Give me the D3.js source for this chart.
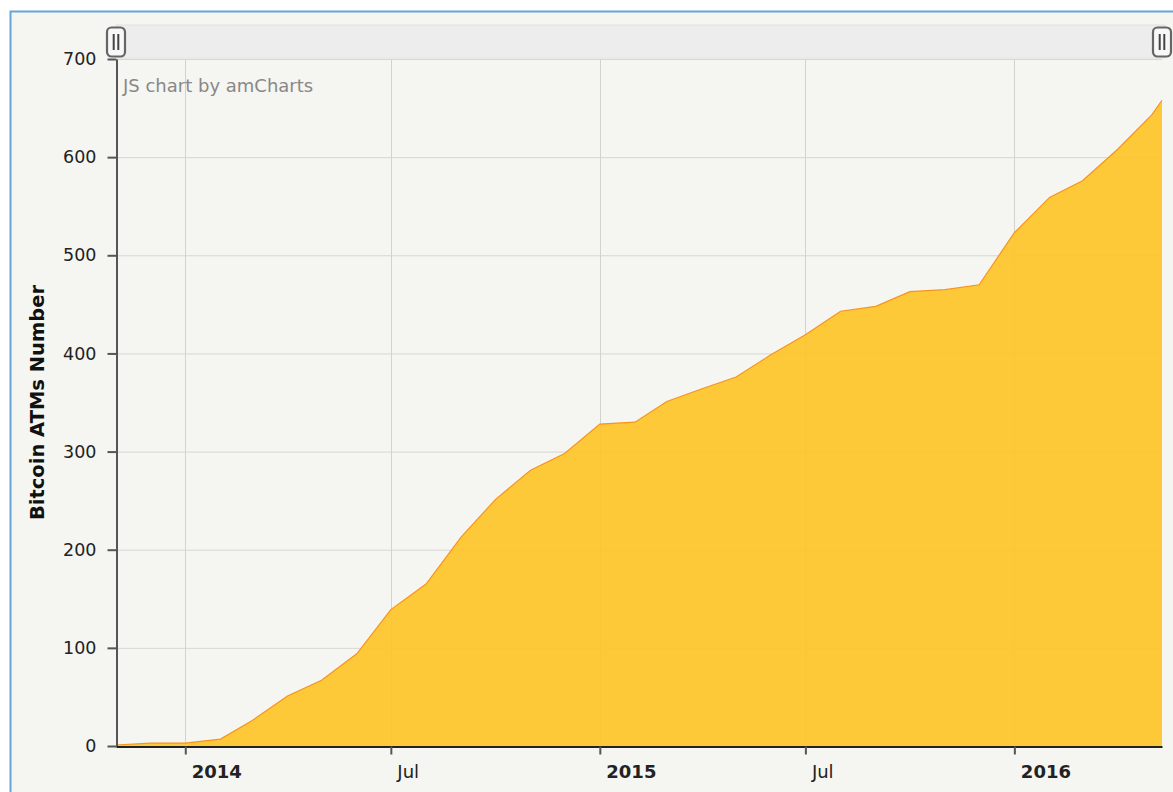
<!DOCTYPE html>
<html>
<head>
<meta charset="utf-8">
<script src="https://cdnjs.cloudflare.com/ajax/libs/d3/7.8.5/d3.min.js"></script>
<style>
  body { margin: 0; background: #fff; }
  svg { display: block; font-family: Verdana, 'DejaVu Sans', sans-serif; }
</style>
</head>
<body>
<div class="chart"></div>
<script>
// monthly Bitcoin ATM counts
const dates = ['2013-11-01', '2013-12-01',
  '2014-01-01', '2014-02-01', '2014-03-01', '2014-04-01', '2014-05-01', '2014-06-01',
  '2014-07-01', '2014-08-01', '2014-09-01', '2014-10-01', '2014-11-01', '2014-12-01',
  '2015-01-01', '2015-02-01', '2015-03-01', '2015-04-01', '2015-05-01', '2015-06-01',
  '2015-07-01', '2015-08-01', '2015-09-01', '2015-10-01', '2015-11-01', '2015-12-01',
  '2016-01-01', '2016-02-01', '2016-03-01', '2016-04-01', '2016-05-01', '2016-05-10']
const atms = [1, 3,
  3, 7, 26, 51, 67, 94,
  139, 165, 213, 251, 281, 298,
  328, 330, 351, 364, 376, 399,
  419, 443, 448, 463, 465, 470,
  523, 559, 576, 608, 643, 658]

const xTickDates = ['2014-01-01', '2014-07-01', '2015-01-01', '2015-07-01', '2016-01-01']
const xTickLabels = ['2014', 'Jul', '2015', 'Jul', '2016']
const yTicks = [0, 100, 200, 300, 400, 500, 600, 700]
const yTitle = 'Bitcoin ATMs Number'
const credit = 'JS chart by amCharts'

const width = 1173
const height = 792
const plot = { left: 116, right: 1162, top: 59, bottom: 746 }

const parse = d3.timeParse('%Y-%m-%d')
const data = dates.map((d, i) => ({ date: parse(d), value: atms[i] }))

let svg = d3.select('.chart')
  .append('svg')
  .attr('width', width)
  .attr('height', height)

// frame
svg.append('rect')
  .attr('x', 10.5)
  .attr('y', 11.5)
  .attr('width', width)
  .attr('height', height)
  .attr('fill', '#f5f5f1')
  .attr('stroke', '#6aa3da')
  .attr('stroke-width', 2)

let x = d3.scaleTime()
  .domain(d3.extent(data, d => d.date))
  .range([plot.left, plot.right])

let y = d3.scaleLinear()
  .domain([0, 700])
  .range([plot.bottom, plot.top])

// grid
svg.append('g')
  .selectAll('line')
  .data(yTicks.slice(1))
  .enter().append('line')
  .attr('x1', plot.left)
  .attr('x2', plot.right)
  .attr('y1', d => y(d) + 0.5)
  .attr('y2', d => y(d) + 0.5)
  .attr('stroke', '#d6d6d2')

svg.append('g')
  .selectAll('line')
  .data(xTickDates)
  .enter().append('line')
  .attr('x1', d => Math.round(x(parse(d))) + 0.5)
  .attr('x2', d => Math.round(x(parse(d))) + 0.5)
  .attr('y1', plot.top)
  .attr('y2', plot.bottom)
  .attr('stroke', '#d2d2ce')

// area
let area = d3.area()
  .x(d => x(d.date))
  .y0(y(0))
  .y1(d => y(d.value))

let line = d3.line()
  .x(d => x(d.date))
  .y(d => y(d.value))

svg.append('path')
  .datum(data)
  .attr('d', area)
  .attr('fill', '#fdc52a')
  .attr('fill-opacity', 0.93)

svg.append('path')
  .datum(data)
  .attr('d', line)
  .attr('fill', 'none')
  .attr('stroke', '#f7941d')
  .attr('stroke-width', 1.2)

// axes
let yAxis = svg.append('g')
  .attr('transform', 'translate(' + (plot.left + 0.5) + ',0)')
  .call(d3.axisLeft(y).tickValues(yTicks).tickSize(9).tickPadding(11).tickSizeOuter(0))
  .attr('font-family', null)
  .attr('font-size', null)

yAxis.select('.domain').attr('stroke', '#555').attr('stroke-width', 2)
yAxis.selectAll('.tick line').attr('stroke', '#555').attr('stroke-width', 2)
yAxis.selectAll('.tick text')
  .attr('font-size', 17.5)
  .attr('fill', '#222')

let xAxis = svg.append('g')
  .attr('transform', 'translate(0,' + (plot.bottom + 0.5) + ')')
  .call(d3.axisBottom(x)
    .tickValues(xTickDates.map(parse))
    .tickFormat((d, i) => xTickLabels[i])
    .tickSize(8)
    .tickSizeOuter(0))
  .attr('font-family', null)
  .attr('font-size', null)

xAxis.select('.domain').attr('stroke', '#222').attr('stroke-width', 2)
xAxis.selectAll('.tick line').attr('stroke', '#555').attr('stroke-width', 2)
xAxis.selectAll('.tick text')
  .attr('text-anchor', 'start')
  .attr('x', 6)
  .attr('y', 31)
  .attr('dy', 0)
  .attr('fill', '#222')
  .attr('font-weight', (d, i) => /^\d+$/.test(xTickLabels[i]) ? 'bold' : 'normal')
  .attr('font-size', 18)

// y axis title
svg.append('text')
  .attr('transform', 'translate(44,' + (plot.top + plot.bottom) / 2 + ') rotate(-90)')
  .attr('text-anchor', 'middle')
  .attr('font-size', 19.5)
  .attr('font-weight', 'bold')
  .attr('fill', '#111')
  .text(yTitle)

svg.append('text')
  .attr('x', 123)
  .attr('y', 92)
  .attr('font-size', 18)
  .attr('fill', '#888')
  .text(credit)

// scrollbar
svg.append('rect')
  .attr('x', plot.left)
  .attr('y', 25)
  .attr('width', plot.right - plot.left + 3)
  .attr('height', 33)
  .attr('fill', '#ededed')
  .attr('stroke', '#e2e2e0')

let grip = svg.selectAll('.grip')
  .data([plot.left, plot.right])
  .enter().append('g')
  .attr('class', 'grip')
  .attr('transform', d => 'translate(' + d + ',42)')

grip.append('rect')
  .attr('x', -9)
  .attr('y', -14.5)
  .attr('width', 18)
  .attr('height', 29)
  .attr('rx', 4.5)
  .attr('fill', '#f8f8f8')
  .attr('stroke', '#666')
  .attr('stroke-width', 2.2)

grip.selectAll('line')
  .data([-2.3, 2.3])
  .enter().append('line')
  .attr('x1', d => d)
  .attr('x2', d => d)
  .attr('y1', -8)
  .attr('y2', 8)
  .attr('stroke', '#444')
  .attr('stroke-width', 2)
</script>
</body>
</html>
